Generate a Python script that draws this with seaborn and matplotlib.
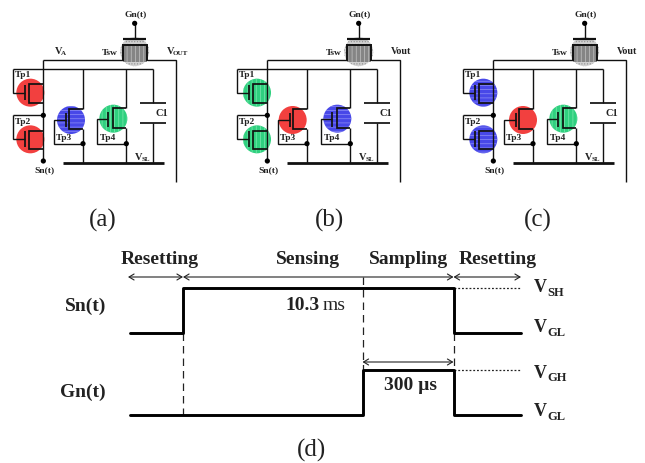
import numpy as np
import pandas as pd
import seaborn as sns
import matplotlib.pyplot as plt
from matplotlib.patches import Circle, Rectangle

# timing diagram data (schematic time units, not to scale)
phase_names = ["Resetting", "Sensing", "Sampling", "Resetting"]
phase_lengths = [53, 179.5, 91, 67.5]
sn_levels = [0, 1, 1, 0, 0]
gn_levels = [0, 0, 1, 0, 0]
sn_time = "10.3"
gn_time = "300 µs"

# circuit panels
panel_names = ["(a)", "(b)", "(c)"]
panel_shift = [0, 224, 450]
panel_tr_colors = [
    ["red", "red", "blue", "green"],
    ["green", "green", "red", "blue"],
    ["blue", "blue", "red", "green"],
]
panel_tr_nudge = [[0, 0, 0, 0], [8, 8, -7, 0], [9, 9, 6, 0]]

RED = "#f2403f"
BLUE = "#4848e8"
GREEN = "#2fd07f"
fills = {"red": (RED, RED, ""), "blue": (BLUE, "#8f8ff5", "----"), "green": (GREEN, "#7fe8b0", "||||")}

sns.set_theme(style="white")
plt.rcParams["font.family"] = ["Liberation Serif", "DejaVu Serif"]
plt.rcParams["hatch.linewidth"] = 0.5

fig = plt.figure(figsize=(6.45, 4.63), dpi=100)
ax = fig.add_axes([0, 0, 1, 1])
ax.set_xlim(0, 645)
ax.set_ylim(463, 0)
ax.axis("off")

THIN = 1.0
MED = 1.25
WIRE = "#111111"


def wire(dx, xs, ys, lw=THIN):
    ax.plot(np.array(xs) / 3 + dx, np.array(ys) / 3, color=WIRE, lw=lw,
            solid_capstyle="butt", solid_joinstyle="miter", zorder=3)


def dot(dx, x, y):
    ax.add_patch(Circle((x / 3 + dx, y / 3), 2.6, fc="black", ec="none", zorder=4))


def label(dx, x, y, s, size=6.8):
    ax.text(x / 3 + dx, y / 3, s, fontsize=size, fontweight="bold", ha="center",
            va="center", color="#222222", zorder=5)


def sub_label(dx, x, y, main, sub):
    ax.text(x / 3 + dx, y / 3, main, fontsize=7.5, fontweight="bold", ha="left",
            va="center", color="#222222", zorder=5)
    ax.text((x + 19) / 3 + dx, (y + 6) / 3, sub, fontsize=5, fontweight="bold",
            ha="left", va="center", color="#222222", zorder=5)


def blob(dx, x, y, name):
    fc, hc, hatch = fills[name]
    ax.add_patch(Circle((x / 3 + dx, y / 3), 14, fc=fc, ec="none", zorder=1))
    if hatch:
        ax.add_patch(Circle((x / 3 + dx, y / 3), 14, fc="none", ec=hc, lw=0,
                            hatch=hatch, zorder=2))


def draw_panel(i):
    dx = panel_shift[i]
    colors = panel_tr_colors[i]
    nudge = panel_tr_nudge[i]

    # Tsw
    ax.add_patch(Circle((404 / 3 + dx, 155 / 3), 14.5, fc="#d0d0d0", ec="#909090",
                        lw=0, hatch="......", zorder=1))
    ax.add_patch(Rectangle((370 / 3 + dx, 135 / 3), 70 / 3, 50 / 3, fc="#858585",
                           ec="#c4c4c4", lw=0, hatch="||||", zorder=2))
    label(dx, 407, 43, "Gn(t)")
    dot(dx, 404, 70)
    wire(dx, [404, 404], [70, 118])
    wire(dx, [368, 438], [118, 118], 1.6)
    wire(dx, [368, 368, 440, 440], [182, 135, 135, 182], 1.4)
    wire(dx, [130, 370], [180, 180])
    wire(dx, [440, 528, 528], [180, 180, 546])
    label(dx, 330, 158, "Tsw")

    if i == 0:
        sub_label(dx, 165, 155, "V", "A")
        sub_label(dx, 500, 155, "V", "OUT")
    else:
        label(dx, 530, 155, "Vout", 7.2)

    # Tp1 / Tp2 column
    wire(dx, [40, 460], [208, 208])
    wire(dx, [130, 130], [180, 483])
    wire(dx, [40, 40, 74], [208, 278, 278])
    wire(dx, [40, 130], [346, 346])
    wire(dx, [40, 40, 74], [346, 418, 418])
    dot(dx, 130, 346)
    dot(dx, 130, 483)
    label(dx, 134, 512, "Sn(t)")
    label(dx, 70, 226, "Tp1")
    label(dx, 68, 365, "Tp2")
    blob(dx, 91 + nudge[0], 278, colors[0])
    blob(dx, 91 + nudge[1], 418, colors[1])
    for y0, top, bot in [(278, 252, 310), (418, 392, 448)]:
        wire(dx, [74, 74], [y0 - 24, y0 + 22], MED)
        wire(dx, [130, 86, 86, 130], [top, top, bot, bot], MED)

    # Tp3
    blob(dx, 213 + nudge[2], 360, colors[2])
    wire(dx, [249, 249], [208, 327])
    wire(dx, [249, 208, 208, 249], [327, 327, 388, 388], MED)
    wire(dx, [249, 249], [388, 490])
    wire(dx, [197, 197], [338, 382], MED)
    wire(dx, [197, 161, 161, 249], [360, 360, 431, 431])
    dot(dx, 249, 431)
    label(dx, 192, 415, "Tp3")

    # Tp4
    blob(dx, 340 + nudge[3], 356, colors[3])
    wire(dx, [379, 379], [208, 325])
    wire(dx, [379, 338, 338, 379], [325, 325, 385, 385], MED)
    wire(dx, [379, 379], [385, 490])
    wire(dx, [325, 325], [335, 380], MED)
    wire(dx, [325, 290, 290, 379], [358, 358, 431, 431])
    dot(dx, 379, 431)
    label(dx, 323, 415, "Tp4")

    # C1 and bus
    wire(dx, [460, 460], [208, 310])
    wire(dx, [420, 498], [310, 310], MED)
    wire(dx, [420, 498], [369, 369], MED)
    wire(dx, [460, 460], [369, 490])
    label(dx, 487, 341, "C1", 7.5)
    wire(dx, [190, 492], [490, 490], 2.0)
    sub_label(dx, 405, 472, "V", "SL")


for i in range(3):
    draw_panel(i)

for name, x in zip(panel_names, [103, 330, 538]):
    ax.text(x, 220, name, fontsize=18, ha="center", va="center", color="#222222")
ax.text(312, 450, "(d)", fontsize=18, ha="center", va="center", color="#222222")

# timing waveforms
edges = np.concatenate([[0], np.cumsum(phase_lengths)])
left, width = 130, sum(phase_lengths)


def wave(levels, y_low, y_high):
    sub = fig.add_axes([left / 645, 1 - y_low / 463, width / 645, (y_low - y_high) / 463])
    df = pd.DataFrame({"time": edges, "level": levels})
    sns.lineplot(data=df, x="time", y="level", ax=sub, color="black", lw=2.1,
                 estimator=None, sort=False, drawstyle="steps-post", clip_on=False,
                 legend=False)
    sub.set_xlim(0, width)
    sub.set_ylim(0, 1)
    sub.axis("off")
    sub.patch.set_alpha(0)


wave(sn_levels, 333, 288)
wave(gn_levels, 415, 370)

x_rise, x_sample, x_fall, x_end = left + edges[1:]

# dashed and dotted guides
dash = dict(color="#222222", lw=0.9, dashes=(6, 4))
ax.plot([x_rise, x_rise], [333, 415], **dash)
ax.plot([x_sample, x_sample], [277, 370], **dash)
ax.plot([x_fall, x_fall], [333, 370], **dash)
ax.plot([x_fall, x_end], [288, 288], color="#222222", lw=0.9, ls=(0, (1.5, 1.5)))
ax.plot([x_fall, x_end], [370, 370], color="#222222", lw=0.9, ls=(0, (1.5, 1.5)))


def span(x0, x1, y):
    ax.annotate("", xy=(x1, y), xytext=(x0, y),
                arrowprops=dict(arrowstyle="<->,head_length=0.3,head_width=0.18", lw=0.8,
                                color="#222222", shrinkA=0, shrinkB=0))


span(left - 2, x_rise, 277)
span(x_rise, x_fall, 277)
span(x_fall, x_end, 277)
span(x_sample, x_fall, 362)

# phase titles
for name, x in zip(phase_names, [160, 308, 409, 498]):
    ax.text(x, 260, name, fontsize=14, fontweight="bold", ha="center", va="center",
            color="#222222")

ax.text(106, 306, "Sn(t)", fontsize=14, fontweight="bold", ha="right", va="center", color="#222222")
ax.text(106, 392, "Gn(t)", fontsize=14, fontweight="bold", ha="right", va="center", color="#222222")
ax.text(285, 306, sn_time, fontsize=14, fontweight="bold", ha="left", va="center", color="#222222")
ax.text(323, 306, "ms", fontsize=14, ha="left", va="center", color="#222222")
ax.text(411, 385, gn_time, fontsize=14, fontweight="bold", ha="center", va="center", color="#222222")

# level labels
for y, sub_txt in zip([288, 328, 373, 412], ["SH", "GL", "GH", "GL"]):
    ax.text(534, y, "V", fontsize=13, fontweight="bold", ha="left", va="center", color="#222222")
    ax.text(547, y + 5, sub_txt, fontsize=9, fontweight="bold", ha="left", va="center", color="#222222")

fig.savefig("out.png", dpi=100)
